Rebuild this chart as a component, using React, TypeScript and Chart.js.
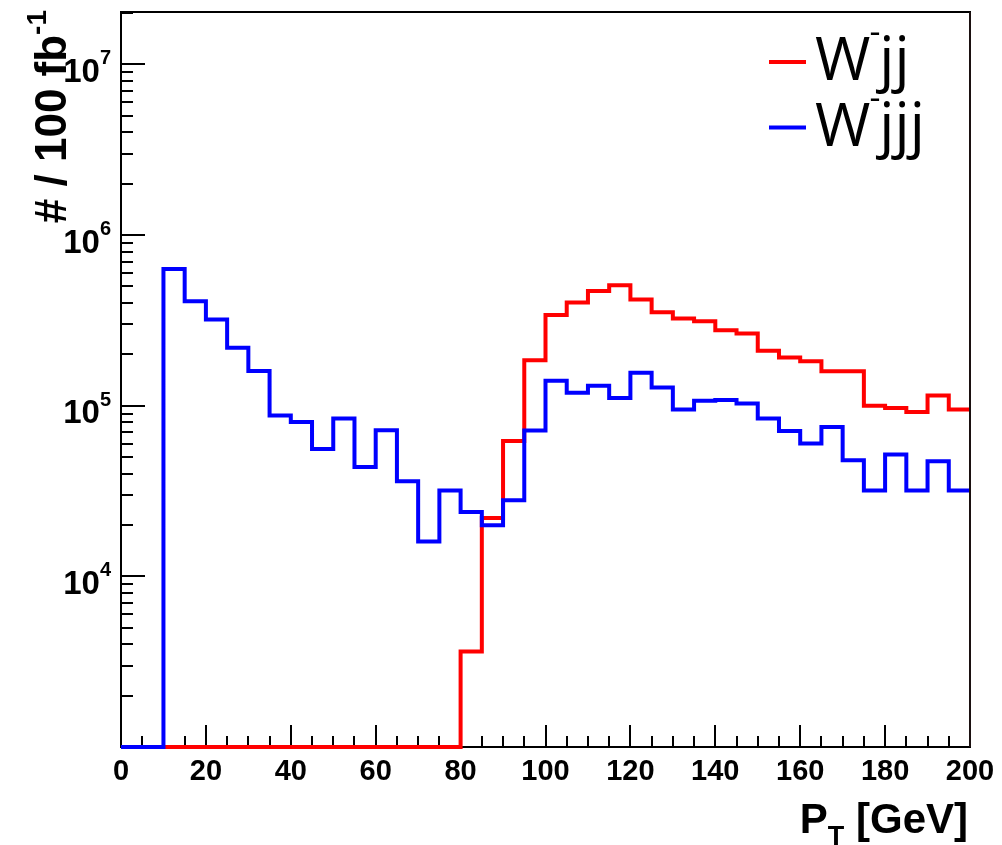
import React, { useEffect, useRef } from "react";
import { Chart, registerables } from "chart.js";

Chart.register(...registerables);

// ---- data ----
const BIN_LOW_EDGES = [
  0, 5, 10, 15, 20, 25, 30, 35, 40, 45, 50, 55, 60, 65, 70, 75, 80, 85, 90, 95,
  100, 105, 110, 115, 120, 125, 130, 135, 140, 145, 150, 155, 160, 165, 170, 175, 180, 185, 190, 195,
];
const X_MIN = 0;
const X_MAX = 200;
const Y_MIN = 1000;
const Y_MAX = 2.03e7;

// W^- jj  (events / 100 fb^-1 per 5 GeV bin)
const WJJ = [
  0, 0, 0, 0, 0, 0, 0, 0, 0, 0, 0, 0, 0, 0, 0, 0,
  3630, 22000, 62200, 185000, 340000, 403000, 471000, 509000, 420000, 353000,
  325000, 313000, 277000, 265000, 210000, 192000, 182000, 159000, 159000, 100000,
  97000, 92000, 115000, 95000,
];

// W^- jjj
const WJJJ = [
  0, 0, 632000, 410000, 320000, 219000, 160000, 87600, 80400, 55800,
  84100, 43800, 71800, 36100, 16000, 31900, 23800, 19900, 27900, 71500,
  140000, 119000, 131000, 111000, 156000, 128000, 95000, 107000, 108000, 103000,
  84100, 71100, 60000, 75100, 47900, 31900, 51700, 31900, 47300, 31900,
];

const X_TICK_LABELS = ["0", "20", "40", "60", "80", "100", "120", "140", "160", "180", "200"];
const X_MINOR_STEP = 5;
const Y_TICK_EXPONENTS = [4, 5, 6, 7];

const SERIES_NAMES = ["jj", "jjj"];
const SERIES_COLORS = ["#ff0000", "#0000ff"];

const FRAME = { left: 121, top: 12, right: 970, bottom: 747 };

function toSteps(values: number[]) {
  const pts = BIN_LOW_EDGES.map((x, i) => ({ x, y: values[i] > 0 ? values[i] : Y_MIN }));
  const last = values[values.length - 1];
  pts.push({ x: X_MAX, y: last > 0 ? last : Y_MIN });
  return pts;
}

const AXIS_FONT = '"Liberation Sans", Arial, Helvetica, sans-serif';
const LEGEND_FONT = '"Open Sans", "Noto Sans", sans-serif';

const rootPlugin = {
  id: "rootStyle",
  beforeDatasetsDraw(chart: any) {
    const ctx = chart.ctx as CanvasRenderingContext2D;
    const { left, top, right, bottom } = chart.chartArea;
    const xs = chart.scales.x;
    const ys = chart.scales.y;
    ctx.save();
    ctx.strokeStyle = "#000";
    ctx.lineWidth = 2;
    ctx.strokeRect(left, top, right - left, bottom - top);

    ctx.beginPath();
    for (let e = 3; e <= 7; e++) {
      for (let m = 1; m <= 9; m++) {
        const v = m * Math.pow(10, e);
        if (v < ys.min * 1.0001 || v > ys.max) continue;
        const y = Math.round(ys.getPixelForValue(v));
        const len = m === 1 ? 24 : 12;
        ctx.moveTo(left, y);
        ctx.lineTo(left + len, y);
      }
    }
    for (let v = X_MIN; v <= X_MAX; v += X_MINOR_STEP) {
      const x = Math.round(xs.getPixelForValue(v));
      const major = X_TICK_LABELS.includes(String(v));
      const len = major ? 22 : 11;
      ctx.moveTo(x, bottom);
      ctx.lineTo(x, bottom - len);
    }
    ctx.stroke();
    ctx.restore();
  },
  afterDraw(chart: any) {
    const ctx = chart.ctx as CanvasRenderingContext2D;
    const { right, bottom } = chart.chartArea;
    const xs = chart.scales.x;
    const ys = chart.scales.y;
    ctx.save();
    ctx.fillStyle = "#000";

    ctx.strokeStyle = "#1a1010";
    ctx.lineWidth = 2;
    ctx.beginPath();
    ctx.moveTo(right, chart.chartArea.top);
    ctx.lineTo(right, bottom);
    ctx.stroke();

    // x tick labels
    ctx.font = `bold 29px ${AXIS_FONT}`;
    ctx.textAlign = "center";
    ctx.textBaseline = "alphabetic";
    X_TICK_LABELS.forEach((lab) => {
      const x = xs.getPixelForValue(Number(lab));
      ctx.fillText(lab, x, 780);
    });

    // y tick labels: 10^n
    Y_TICK_EXPONENTS.forEach((n) => {
      const y = ys.getPixelForValue(Math.pow(10, n));
      ctx.font = `bold 20px ${AXIS_FONT}`;
      const supW = ctx.measureText(String(n)).width;
      ctx.font = `bold 33px ${AXIS_FONT}`;
      const baseW = ctx.measureText("10").width;
      const rightEdge = 111;
      ctx.textAlign = "left";
      ctx.fillText("10", rightEdge - supW - baseW, y + 17.5);
      ctx.font = `bold 20px ${AXIS_FONT}`;
      ctx.fillText(String(n), rightEdge - supW, y);
    });

    // x title: P_T [GeV]
    {
      ctx.textAlign = "left";
      ctx.font = `bold 42px ${AXIS_FONT}`;
      const w1 = ctx.measureText("P").width;
      const w3 = ctx.measureText(" [GeV]").width;
      ctx.font = `bold 27px ${AXIS_FONT}`;
      const w2 = ctx.measureText("T").width;
      const start = 968 - (w1 + w2 + w3);
      ctx.font = `bold 42px ${AXIS_FONT}`;
      ctx.fillText("P", start, 833);
      ctx.font = `bold 27px ${AXIS_FONT}`;
      ctx.fillText("T", start + w1, 845);
      ctx.font = `bold 42px ${AXIS_FONT}`;
      ctx.fillText(" [GeV]", start + w1 + w2, 833);
    }

    // y title: # / 100 fb^-1 (rotated)
    {
      ctx.save();
      ctx.translate(66, 10);
      ctx.rotate(-Math.PI / 2);
      ctx.textAlign = "left";
      ctx.font = `bold 44px ${AXIS_FONT}`;
      const mainText = "# / 100 fb";
      const wMain = ctx.measureText(mainText).width;
      ctx.font = `bold 28px ${AXIS_FONT}`;
      const wSup = ctx.measureText("-1").width;
      const start = -(wMain + wSup);
      ctx.font = `bold 44px ${AXIS_FONT}`;
      ctx.fillText(mainText, start, 0);
      ctx.font = `bold 28px ${AXIS_FONT}`;
      ctx.fillText("-1", start + wMain, -20);
      ctx.restore();
    }

    // legend
    SERIES_NAMES.forEach((name, i) => {
      const lineY = 62 + i * 65.5;
      const base = 80 + i * 66;
      ctx.strokeStyle = SERIES_COLORS[i];
      ctx.lineWidth = 4;
      ctx.beginPath();
      ctx.moveTo(769, lineY);
      ctx.lineTo(806, lineY);
      ctx.stroke();
      ctx.fillStyle = "#000";
      ctx.textAlign = "left";
      ctx.font = `60px ${LEGEND_FONT}`;
      const wW = ctx.measureText("W").width;
      ctx.fillText("W", 815, base);
      ctx.font = `34px ${LEGEND_FONT}`;
      const wDash = ctx.measureText("-").width;
      ctx.fillText("-", 815 + wW - 1, base - 37);
      ctx.font = `60px ${LEGEND_FONT}`;
      ctx.fillText(name, 815 + wW + wDash - 2, base);
    });

    ctx.restore();
  },
};

export default function App() {
  const canvasRef = useRef<HTMLCanvasElement | null>(null);

  useEffect(() => {
    const canvas = canvasRef.current;
    if (!canvas) return;
    const chart = new Chart(canvas, {
      type: "line",
      data: {
        datasets: [
          {
            label: "W-jj",
            data: toSteps(WJJ),
            borderColor: SERIES_COLORS[0],
            borderWidth: 4,
            pointRadius: 0,
            fill: false,
            stepped: "before",
            clip: 8,
            order: 1,
            borderJoinStyle: "miter",
            borderCapStyle: "butt",
          } as any,
          {
            label: "W-jjj",
            data: toSteps(WJJJ),
            borderColor: SERIES_COLORS[1],
            borderWidth: 4,
            pointRadius: 0,
            fill: false,
            stepped: "before",
            clip: 8,
            order: 0,
            borderJoinStyle: "miter",
            borderCapStyle: "butt",
          } as any,
        ],
      },
      options: {
        animation: false,
        responsive: false,
        devicePixelRatio: 1,
        layout: {
          padding: {
            left: FRAME.left,
            top: FRAME.top,
            right: 1002 - FRAME.right,
            bottom: 845 - FRAME.bottom,
          },
        },
        plugins: {
          legend: { display: false },
          tooltip: { enabled: false },
        },
        scales: {
          x: { type: "linear", min: X_MIN, max: X_MAX, display: false },
          y: { type: "logarithmic", min: Y_MIN, max: Y_MAX, display: false },
        },
      },
      plugins: [rootPlugin],
    });
    return () => chart.destroy();
  }, []);

  return (
    <div style={{ position: "fixed", left: 0, top: 0, width: 1002, height: 845, background: "#fff" }}>
      <canvas ref={canvasRef} width={1002} height={845} style={{ display: "block", width: 1002, height: 845 }} />
    </div>
  );
}
